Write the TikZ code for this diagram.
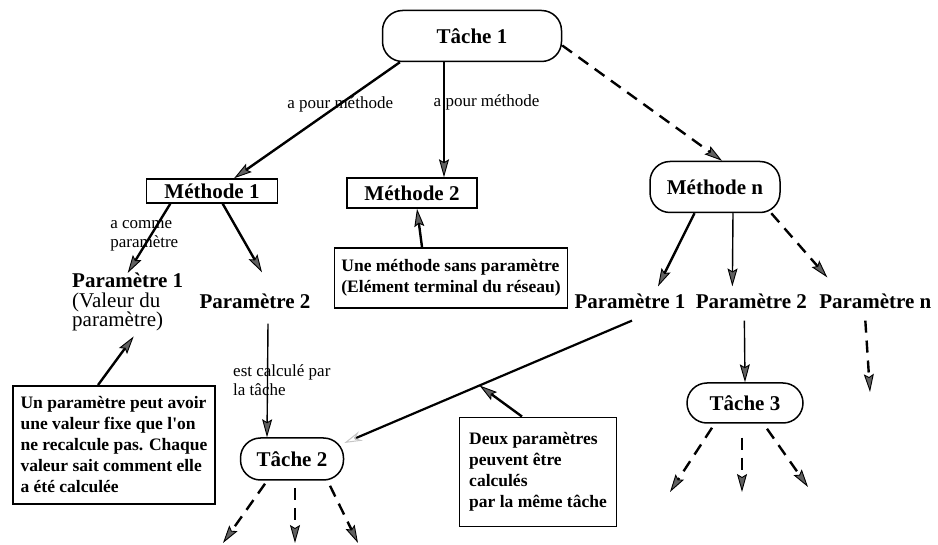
\documentclass[tikz,border=0pt]{standalone}
\usepackage{fontspec}
\setmainfont{Liberation Serif}
\usepackage{tikz}
\usetikzlibrary{positioning,arrows.meta}

\begin{document}
\begin{tikzpicture}[x=1pt, y=-1pt,
    >={Stealth[length=18pt, width=10pt, inset=3pt, line width=0.9pt, fill=gray!75!black]},
    task/.style = {draw, rounded corners=20pt, line width=1.5pt, font=\bfseries\fontsize{21}{21}\selectfont},
    meth/.style = {draw, line width=1.5pt, font=\bfseries\fontsize{21}{21}\selectfont},
    param/.style = {inner sep=0pt, font=\bfseries\fontsize{21}{20}\selectfont},
    note/.style = {draw, line width=1.9pt, align=left, font=\bfseries\fontsize{17.5}{21}\selectfont},
    lbl/.style = {inner sep=0pt, align=left, font=\fontsize{17}{19}\selectfont},
    big/.style = {->, line width=2.4pt},
    small/.style = {->, line width=1.4pt},
    maybe/.style = {->, line width=2.4pt, dash pattern=on 12pt off 8pt}]
            \useasboundingbox (0,0) rectangle (938,545);
            % Nodes
            \node[task, minimum width=179pt, minimum height=51pt] (t1) at (472,36) {Tâche 1};
            \node[meth, minimum width=131pt, minimum height=24pt] (m1) at (212,191) {Méthode 1};
            \node[meth, minimum width=130pt, minimum height=30pt] (m2) at (412,193) {Méthode 2};
            \node[task, minimum width=130pt, minimum height=51pt] (mn) at (715,187) {Méthode n};
            \node[param, align=left, anchor=north west, font=\fontsize{21}{19.5}\selectfont] (p1l) at (72,273) {\textbf{Paramètre 1}\\(Valeur du\\paramètre)};
            \node[param] (p2l) at (255,301) {Paramètre 2};
            \node[param] (p1r) at (630,301) {Paramètre 1};
            \node[param] (p2r) [right=10pt of p1r] {Paramètre 2};
            \node[param] (pnr) [right=12pt of p2r] {Paramètre n};
            \node[task, minimum width=103pt, minimum height=42pt] (t2) at (292,459) {Tâche 2};
            \node[task, minimum width=116pt, minimum height=40pt] (t3) at (745,403) {Tâche 3};
            \node[note, minimum width=202pt, minimum height=118pt] (n1) at (114,445) {Un paramètre peut avoir\\une valeur fixe que l\textquotesingle on\\ne recalcule pas. Chaque\\valeur sait comment elle\\a été calculée};
            \node[note, minimum width=233pt, minimum height=60pt] (n2) at (451,278) {Une méthode sans paramètre\\(Elément terminal du réseau)};
            \node[note, minimum width=157pt, minimum height=109pt] (n3) at (538,472) {Deux paramètres\\peuvent être\\calculés\\par la même tâche};
            \coordinate (a2) at ([xshift=-28pt]t1.south);
            \coordinate (pnend) at (870,392);
            \coordinate (o1) at (223,543);
            \coordinate (o2) at (295,543);
            \coordinate (o3) at (358,543);
            \coordinate (o4) at (670,492);
            \coordinate (o5) at (742,492);
            \coordinate (o6) at (808,487);
            % Edges
            \draw[big] (t1.200) -- node[lbl, pos=0.36] {a pour méthode} (m1.30);
            \draw[small] (a2) -- node[lbl, pos=0.35, anchor=west, xshift=-11pt] {a pour méthode} (a2 |- m2.north);
            \draw[maybe] (t1.-6) -- (mn.75);
            \draw[big] (m1.197) -- node[lbl, pos=0.47, xshift=-6pt] {a comme\\paramètre} (p1l.north);
            \draw[big] (m1.-50) -- ([xshift=7pt, yshift=21pt]p2l.north);
            \draw[big] (mn.232) -- ([xshift=28pt, yshift=7pt]p1r.north);
            \draw[small] ([xshift=18pt]mn.south) -- ([xshift=-19pt, yshift=7pt]p2r.north);
            \draw[maybe] (mn.-25) -- ([xshift=-48pt, yshift=16pt]pnr.north);
            \draw[line width=2.2pt, -{Stealth[open, length=18pt, width=10pt, line width=1pt, color=gray!45]}] ([xshift=2pt, yshift=-12pt]p1r.south) -- coordinate[pos=0.53] (hit) (t2.17);
            \draw[big] ([xshift=-16pt]n3.north) -- (hit);
            \draw[small] ([xshift=13pt, yshift=-15pt]p2l.south) -- node[lbl, pos=0.5, anchor=west, xshift=-35pt] {est calculé par\\la tâche} ([xshift=-25pt]t2.north);
            \draw[small] ([xshift=-7pt, yshift=-12pt]p2r.south) -- (t3.north);
            \draw[maybe] ([xshift=-10pt, yshift=-12pt]pnr.south) -- (pnend);
            \draw[big] ([xshift=-16pt]n1.north) -- ([xshift=6pt, yshift=-5pt]p1l.south);
            \draw[big] ([xshift=-29pt]n2.north) -- ([xshift=5pt]m2.south);
            \draw[maybe] ([xshift=-27pt, yshift=-3pt]t2.south) -- (o1);
            \draw[maybe] ([xshift=3pt, yshift=-7pt]t2.south) -- (o2);
            \draw[maybe] ([xshift=38pt, yshift=-5pt]t2.south) -- (o3);
            \draw[maybe] ([xshift=-33pt, yshift=-4pt]t3.south) -- (o4);
            \draw[maybe] ([xshift=-3pt, yshift=-14pt]t3.south) -- (o5);
            \draw[maybe] ([xshift=22pt, yshift=-5pt]t3.south) -- (o6);
\end{tikzpicture}
\end{document}
